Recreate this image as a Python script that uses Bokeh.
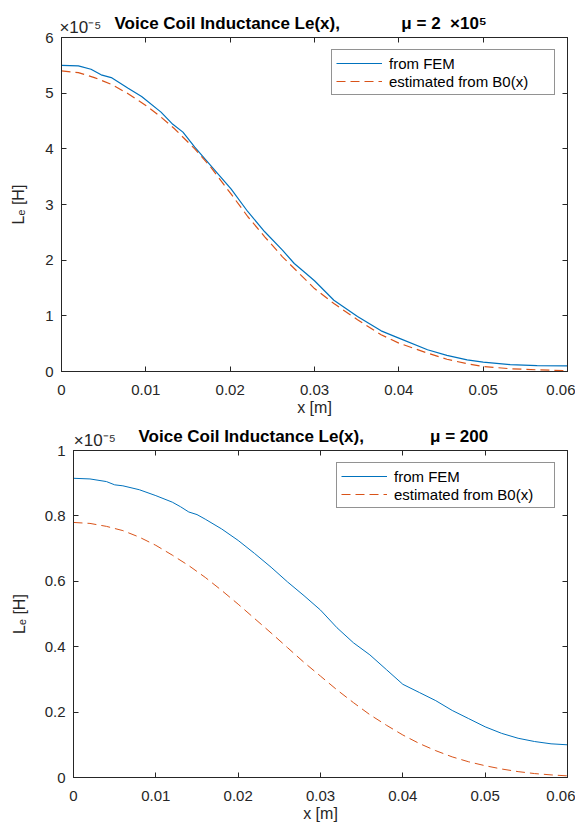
from bokeh.plotting import figure
from bokeh.models import LinearAxis, FixedTicker, Range1d, Legend, LegendItem, Title
from bokeh.embed import file_html
from bokeh.resources import INLINE

# ---------------- data (inductance in units of 1e-5 H) ----------------
x_ticks = [0, 0.01, 0.02, 0.03, 0.04, 0.05, 0.06]
x_tick_labels = ["0", "0.01", "0.02", "0.03", "0.04", "0.05", "0.06"]
top_y_ticks = [0, 1, 2, 3, 4, 5, 6]
top_y_tick_labels = ["0", "1", "2", "3", "4", "5", "6"]
bot_y_ticks = [0, 0.2, 0.4, 0.6, 0.8, 1.0]
bot_y_tick_labels = ["0", "0.2", "0.4", "0.6", "0.8", "1"]

top_x_fem = [0.000, 0.002, 0.0035, 0.0047, 0.0059, 0.0079, 0.0095, 0.0118, 0.0132, 0.0144,
             0.0158, 0.0177, 0.0201, 0.0221, 0.0241, 0.0262, 0.0276, 0.0290, 0.0300, 0.0323,
             0.0351, 0.0379, 0.0400, 0.0434, 0.0457, 0.0481, 0.0500, 0.0532, 0.0564, 0.0600]
top_le_fem = [5.50, 5.49, 5.43, 5.33, 5.28, 5.09, 4.94, 4.66, 4.44, 4.30,
              4.03, 3.70, 3.28, 2.87, 2.51, 2.18, 1.94, 1.76, 1.63, 1.28,
              0.99, 0.73, 0.60, 0.39, 0.29, 0.21, 0.17, 0.125, 0.107, 0.100]

top_x_est = [0.0000, 0.0020, 0.0039, 0.0059, 0.0079, 0.0100, 0.0118, 0.0134, 0.0158, 0.0177,
             0.0201, 0.0221, 0.0241, 0.0262, 0.0276, 0.0300, 0.0323, 0.0351, 0.0379, 0.0400,
             0.0434, 0.0457, 0.0481, 0.0500, 0.0532, 0.0564, 0.0600]
top_le_est = [5.40, 5.37, 5.28, 5.16, 4.99, 4.78, 4.57, 4.36, 4.00, 3.67,
              3.19, 2.78, 2.42, 2.06, 1.85, 1.49, 1.22, 0.93, 0.66, 0.51,
              0.33, 0.22, 0.14, 0.09, 0.05, 0.03, 0.015]

bot_x_fem = [0.000, 0.002, 0.004, 0.005, 0.006, 0.008, 0.010, 0.012, 0.013, 0.014,
             0.015, 0.016, 0.018, 0.020, 0.022, 0.024, 0.026, 0.028, 0.030, 0.032,
             0.034, 0.036, 0.038, 0.040, 0.042, 0.044, 0.046, 0.048, 0.050, 0.052,
             0.054, 0.056, 0.058, 0.060]
bot_le_fem = [0.915, 0.913, 0.905, 0.895, 0.892, 0.880, 0.862, 0.842, 0.828, 0.812,
              0.804, 0.790, 0.760, 0.725, 0.685, 0.643, 0.598, 0.556, 0.512, 0.458,
              0.412, 0.375, 0.330, 0.285, 0.260, 0.235, 0.205, 0.180, 0.155, 0.135,
              0.120, 0.110, 0.103, 0.100]

bot_x_est = [0.000, 0.002, 0.004, 0.006, 0.008, 0.010, 0.012, 0.014, 0.016, 0.018,
             0.020, 0.022, 0.024, 0.026, 0.028, 0.030, 0.032, 0.034, 0.036, 0.038,
             0.040, 0.042, 0.044, 0.046, 0.048, 0.050, 0.052, 0.054, 0.056, 0.058, 0.060]
bot_le_est = [0.780, 0.777, 0.768, 0.755, 0.735, 0.710, 0.680, 0.648, 0.612, 0.572,
              0.530, 0.486, 0.442, 0.397, 0.352, 0.310, 0.268, 0.229, 0.192, 0.160,
              0.130, 0.104, 0.082, 0.063, 0.048, 0.036, 0.026, 0.018, 0.012, 0.008, 0.005]

top_title = "Voice Coil Inductance Le(x)," + "\u00a0" * 13 + "\u03bc = 2\u00a0\u00a0\u00d710\u2075"
bot_title = "Voice Coil Inductance Le(x)," + "\u00a0" * 14 + "\u03bc = 200"
y_label = "L\u2091 [H]"
exp_label = "\u00d710\u207b\u2075"

FONT = "Liberation Sans"
AX = "#262626"
BLUE = "#0072BD"
ORANGE = "#D95319"


def try_set(obj, name, val, fallback):
    try:
        setattr(obj, name, val)
    except ValueError:
        setattr(obj, name, fallback)


def make_fig(height, bl, bt, bb, ymax, yticks, ylabels, xf, yf, xe, ye, lw, lab_w,
             title, title_off, ylab_standoff, exp_pad):
    p = figure(width=575, height=height, output_backend="svg", toolbar_location=None,
               x_range=Range1d(0, 0.06), y_range=Range1d(0, ymax),
               min_border_left=bl, min_border_right=8, min_border_top=bt, min_border_bottom=bb)
    p.xgrid.visible = False
    p.ygrid.visible = False
    p.outline_line_color = AX
    p.outline_line_width = 1
    p.background_fill_color = "white"
    p.border_fill_color = "white"

    ax_below = p.xaxis[0]
    ax_left = p.yaxis[0]
    ax_below.ticker = FixedTicker(ticks=x_ticks)
    ax_below.major_label_overrides = dict(zip(x_ticks, x_tick_labels))
    ax_left.ticker = FixedTicker(ticks=yticks)
    ax_left.major_label_overrides = dict(zip(yticks, ylabels))
    ax_below.axis_label = "x [m]"
    ax_below.axis_label_standoff = 1
    ax_below.major_label_standoff = 13
    ax_left.axis_label = y_label
    ax_left.axis_label_standoff = ylab_standoff
    ax_left.major_label_standoff = 8
    for ax in [ax_below, ax_left]:
        ax.axis_label_text_font = FONT
        ax.axis_label_text_font_size = "16px"
        ax.axis_label_text_font_style = "normal"
        ax.axis_label_text_color = AX
        ax.major_label_text_font_size = "15px"

    # top axis: ticks only, its label carries the x10^-5 multiplier at the left end
    ax_top = LinearAxis(ticker=FixedTicker(ticks=x_ticks),
                        major_label_overrides={t: "" for t in x_ticks}, major_label_standoff=0,
                        axis_label="\u00a0" * exp_pad + exp_label, axis_label_standoff=1,
                        axis_label_text_font=FONT, axis_label_text_font_size="17px",
                        axis_label_text_font_style="normal", axis_label_text_color=AX)
    try_set(ax_top, "axis_label_align", "start", "center")
    ax_right = LinearAxis(ticker=FixedTicker(ticks=yticks),
                          major_label_overrides={t: "" for t in yticks}, major_label_standoff=0)
    p.add_layout(ax_top, "above")
    p.add_layout(ax_right, "right")

    for ax in [ax_below, ax_left, ax_top, ax_right]:
        ax.axis_line_color = AX
        ax.axis_line_width = 1
        ax.major_tick_line_color = AX
        ax.major_tick_in = 5
        ax.major_tick_out = 0
        ax.minor_tick_line_color = None
        ax.major_label_text_font = FONT
        ax.major_label_text_color = AX

    ttl = Title(text=title, align="left", offset=title_off,
                text_font=FONT, text_font_size="17px", text_font_style="bold",
                text_color="black")
    try_set(ttl, "standoff", -37, 0)
    p.add_layout(ttl, "above")

    r1 = p.line(xf, yf, line_color=BLUE, line_width=lw)
    r2 = p.line(xe, ye, line_color=ORANGE, line_width=lw, line_dash="9 5")

    leg = Legend(items=[LegendItem(label="from FEM", renderers=[r1]),
                        LegendItem(label="estimated from B0(x)", renderers=[r2])],
                 location="top_right", margin=12, padding=4, spacing=0,
                 label_text_font=FONT, label_text_font_size="15px", label_text_color="black",
                 label_height=18, glyph_height=18, glyph_width=46, label_standoff=7,
                 label_width=lab_w, border_line_color=AX, border_line_width=1,
                 background_fill_color="white", background_fill_alpha=1.0)
    p.add_layout(leg)
    return p


p1 = make_fig(421, 61, 37, 50, 6, top_y_ticks, top_y_tick_labels,
              top_x_fem, top_le_fem, top_x_est, top_le_est, 1.2, 161,
              top_title, 53, 15, 8)
p2 = make_fig(407, 73, 29, 51, 1.0, bot_y_ticks, bot_y_tick_labels,
              bot_x_fem, bot_le_fem, bot_x_est, bot_le_est, 1.0, 156,
              bot_title, 65, 14, 9)

open("out.html", "w").write(file_html([p1, p2], INLINE))
